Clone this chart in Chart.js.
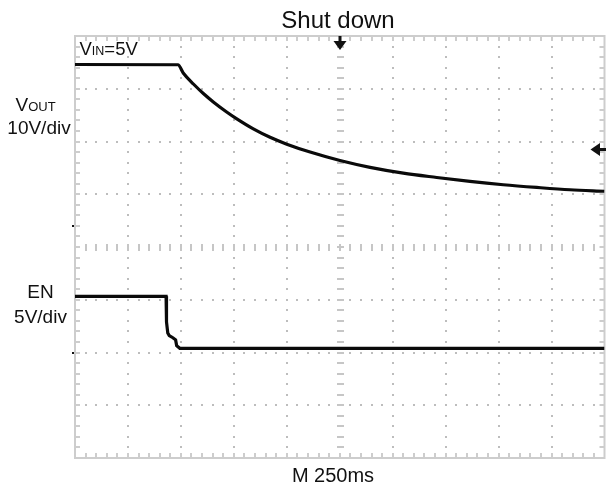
<!DOCTYPE html>
<html>
<head>
<meta charset="utf-8">
<script src="https://cdn.jsdelivr.net/npm/chart.js@4/dist/chart.umd.min.js"></script>
<style>
  html, body { margin: 0; padding: 0; background: #fff; }
  #scope { display: block; }
</style>
</head>
<body>
<canvas id="scope" width="606" height="491"></canvas>
<script>
// Scope capture: time in ms (250 ms/div, 10 div), level in screen divisions (-4..4)
const voutTime  = [0, 486, 511, 559, 606, 653, 716, 764, 842, 921, 1000, 1110, 1251, 1393, 1550, 1708, 1865, 2022, 2180, 2337, 2500];
const voutLevel = [3.46, 3.455, 3.30, 3.09, 2.91, 2.75, 2.56, 2.43, 2.24, 2.08, 1.95, 1.80, 1.64, 1.51, 1.40, 1.318, 1.243, 1.18, 1.129, 1.085, 1.057];

const enTime  = [0, 425, 430, 432, 438, 445, 462, 475, 480, 495, 2500];
const enLevel = [-0.935, -0.935, -0.935, -1.42, -1.63, -1.68, -1.72, -1.76, -1.87, -1.92, -1.92];

const timeDivs = 10;
const levelDivs = 8;
const msPerDiv = 250;

const FONT = '"Liberation Sans", Arial, Helvetica, sans-serif';

function toPoints(xs, ys) {
    return xs.map((x, i) => ({ x: x, y: ys[i] }));
}

// Oscilloscope graticule: dotted divisions, tick-marked centre cross and border
const graticule = {
    id: 'graticule',
    beforeDatasetsDraw(chart) {
        const { ctx, chartArea: a, scales: { x, y } } = chart;
        const minorX = msPerDiv / 5;
        const minorY = 1 / 5;
        ctx.save();

        // dotted division lines
        ctx.fillStyle = '#bdbdbd';
        for (let i = 1; i < timeDivs; i++) {
            if (i === timeDivs / 2) continue;
            const px = x.getPixelForValue(i * msPerDiv);
            for (let j = 1; j < levelDivs * 5; j++) {
                const py = y.getPixelForValue(-4 + j * minorY);
                ctx.fillRect(Math.round(px) - 1, Math.round(py) - 1, 2, 2);
            }
        }
        for (let j = 1; j < levelDivs; j++) {
            if (j === levelDivs / 2) continue;
            const py = y.getPixelForValue(-4 + j);
            for (let i = 1; i < timeDivs * 5; i++) {
                const px = x.getPixelForValue(i * minorX);
                ctx.fillRect(Math.round(px) - 1, Math.round(py) - 1, 2, 2);
            }
        }

        // centre cross with short tick marks
        ctx.fillStyle = '#c6c6c6';
        const cx = x.getPixelForValue(timeDivs / 2 * msPerDiv);
        const cy = y.getPixelForValue(0);
        for (let j = 1; j < levelDivs * 5; j++) {
            const py = y.getPixelForValue(-4 + j * minorY);
            ctx.fillRect(Math.round(cx) - 3, Math.round(py) - 1, 7, 2);
        }
        for (let i = 1; i < timeDivs * 5; i++) {
            const px = x.getPixelForValue(i * minorX);
            ctx.fillRect(Math.round(px) - 1, Math.round(cy) - 3, 2, 7);
        }

        // border and inward ticks
        ctx.strokeStyle = '#cdcdcd';
        ctx.lineWidth = 2;
        ctx.strokeRect(a.left, a.top, a.right - a.left, a.bottom - a.top);
        ctx.fillStyle = '#cdcdcd';
        for (let i = 1; i < timeDivs * 5; i++) {
            const px = Math.round(x.getPixelForValue(i * minorX));
            ctx.fillRect(px - 1, a.top, 2, 5);
            ctx.fillRect(px - 1, a.bottom - 5, 2, 5);
        }
        for (let j = 1; j < levelDivs * 5; j++) {
            const py = Math.round(y.getPixelForValue(-4 + j * minorY));
            ctx.fillRect(a.left, py - 1, 5, 2);
            ctx.fillRect(a.right - 5, py - 1, 5, 2);
        }
        ctx.restore();
    }
};

function subText(ctx, x, baseline, main, sub, rest, size, subSize) {
    ctx.font = size + 'px ' + FONT;
    ctx.fillText(main, x, baseline);
    let cur = x + ctx.measureText(main).width;
    ctx.font = subSize + 'px ' + FONT;
    ctx.fillText(sub, cur, baseline);
    cur += ctx.measureText(sub).width;
    if (rest) {
        ctx.font = size + 'px ' + FONT;
        ctx.fillText(rest, cur, baseline);
    }
}

const annotations = {
    id: 'annotations',
    afterDraw(chart) {
        const { ctx, chartArea: a, scales: { x } } = chart;
        ctx.save();
        ctx.fillStyle = '#111';
        ctx.textBaseline = 'alphabetic';

        ctx.textAlign = 'center';
        ctx.font = '24px ' + FONT;
        ctx.fillText('Shut down', 338, 28);
        ctx.font = '20px ' + FONT;
        ctx.fillText('M 250ms', 333, 482);
        ctx.font = '19px ' + FONT;
        ctx.fillText('10V/div', 39, 134);
        ctx.fillText('EN', 40.5, 298);
        ctx.fillText('5V/div', 40.5, 323);

        ctx.textAlign = 'left';
        subText(ctx, 79.5, 55, 'V', 'IN', '=5V', 18.5, 12.5);
        subText(ctx, 15.5, 111, 'V', 'OUT', '', 19, 13);

        // trigger position arrow (top centre)
        const tx = Math.round(x.getPixelForValue(timeDivs / 2 * msPerDiv));
        ctx.fillRect(tx - 1.5, a.top, 3, 7);
        ctx.beginPath();
        ctx.moveTo(tx - 6.5, a.top + 5);
        ctx.lineTo(tx + 6.5, a.top + 5);
        ctx.lineTo(tx, a.top + 14);
        ctx.closePath();
        ctx.fill();

        // trigger level arrow (right edge)
        const ly = 149.5;
        ctx.fillRect(597, ly - 1.5, 9, 3);
        ctx.beginPath();
        ctx.moveTo(600, ly - 6.5);
        ctx.lineTo(600, ly + 6.5);
        ctx.lineTo(590.5, ly);
        ctx.closePath();
        ctx.fill();

        // channel ground markers
        ctx.fillRect(72, 225, 2, 2);
        ctx.fillRect(72, 352, 2, 2);
        ctx.restore();
    }
};

new Chart(document.getElementById('scope'), {
    type: 'line',
    data: {
        datasets: [{
            label: 'VOUT',
            data: toPoints(voutTime, voutLevel),
            borderColor: '#0a0a0a',
            borderWidth: 3.2,
            pointRadius: 0,
            cubicInterpolationMode: 'monotone'
        }, {
            label: 'EN',
            data: toPoints(enTime, enLevel),
            borderColor: '#0a0a0a',
            borderWidth: 3.2,
            pointRadius: 0,
            tension: 0
        }]
    },
    options: {
        responsive: false,
        animation: false,
        layout: {
            padding: { left: 75, top: 36, right: 1.5, bottom: 33 }
        },
        plugins: {
            legend: { display: false },
            tooltip: { enabled: false }
        },
        scales: {
            x: { type: 'linear', min: 0, max: timeDivs * msPerDiv, display: false },
            y: { type: 'linear', min: -levelDivs / 2, max: levelDivs / 2, display: false }
        }
    },
    plugins: [graticule, annotations]
});
</script>
</body>
</html>
